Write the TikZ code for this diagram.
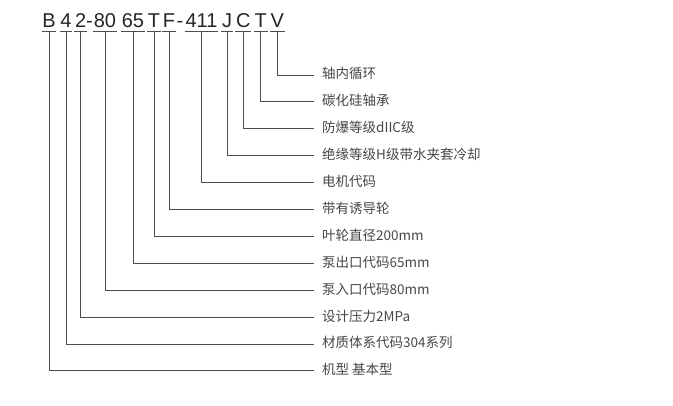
\documentclass[tikz,border=0pt]{standalone}
\usepackage{fontspec}
\setmainfont{Liberation Sans}
\newfontfamily\cjk{Noto Sans CJK SC}
\begin{document}
\begin{tikzpicture}[x=1pt,y=-1pt,
  code/.style={anchor=base,inner sep=0pt,font=\fontsize{20}{20}\selectfont,text=black!85},
  lab/.style={anchor=west,inner xsep=8pt,inner ysep=0pt,text height=10pt,text depth=2pt,font=\cjk\fontsize{13.5}{14}\selectfont,text=black!72},
  wire/.style={draw=black!70,line width=0.8pt},
  uline/.style={draw=black!70,line width=0.8pt}]
\useasboundingbox[fill=white] (0,0) rectangle (673,406);
% code characters
\node[code] (cB) at (49,28) {B};
\node[code] (c4) at (66,28) {4};
\node[code] (c2) at (80.7,28) {2};
\node[code] (d1) at (89.5,28) {-};
\node[code] (c80) at (105,28) {80};
\node[code] (c65) at (133,28) {65};
\node[code] (cT) at (154,28) {T};
\node[code] (cF) at (169,28) {F};
\node[code] (d2) at (180,28) {-};
\node[code] (c411) at (201.5,28) {411};
\node[code] (cJ) at (227,28) {J};
\node[code] (cC) at (243.3,28) {C};
\node[code] (cT2) at (260.7,28) {T};
\node[code] (cV) at (277.3,28) {V};
% labels
\def\rowh{26.9}
\node[lab] (lV) at (314,75) {轴内循环};
\node[lab] (lT2) at (314,{75+1*\rowh}) {碳化硅轴承};
\node[lab] (lC) at (314,{75+2*\rowh}) {防爆等级dIIC级};
\node[lab] (lJ) at (314,{75+3*\rowh}) {绝缘等级H级带水夹套冷却};
\node[lab] (l411) at (314,{75+4*\rowh}) {电机代码};
\node[lab] (lF) at (314,{75+5*\rowh}) {带有诱导轮};
\node[lab] (lT) at (314,{75+6*\rowh}) {叶轮直径200mm};
\node[lab] (l65) at (314,{75+7*\rowh}) {泵出口代码65mm};
\node[lab] (l80) at (314,{75+8*\rowh}) {泵入口代码80mm};
\node[lab] (l2) at (314,{75+9*\rowh}) {设计压力2MPa};
\node[lab] (l4) at (314,{75+10*\rowh}) {材质体系代码304系列};
\node[lab] (lB) at (314,{75+11*\rowh}) {机型 基本型};
% underlines and connectors
\foreach \c in {B,4,2,80,65,T,F,411,J,C,T2,V}{
  \draw[uline] ([xshift=-0.5pt,yshift=-3.5pt]c\c.base west) -- ([xshift=0.5pt,yshift=-3.5pt]c\c.base east);
  \draw[wire] ([yshift=-3.5pt]c\c.base) |- (l\c.west);
}
\end{tikzpicture}
\end{document}
